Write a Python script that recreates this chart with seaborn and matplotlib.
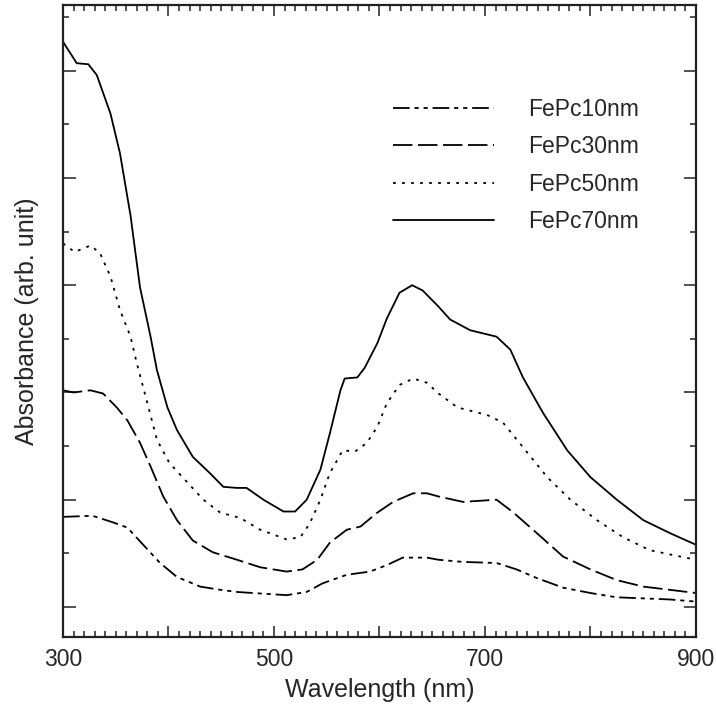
import matplotlib
matplotlib.use("Agg")
import matplotlib.pyplot as plt
import pandas as pd
import seaborn as sns
from matplotlib.ticker import FixedLocator

# FePc 10 nm (dash-dot-dot)
wl_10 = [300, 328, 347, 361, 376, 392, 408, 430, 449, 465, 480, 512, 531, 546, 569,
         591, 607, 622, 645, 656, 679, 711, 730, 749, 774, 800, 825, 850, 875, 900]
ab_10 = [0.84, 0.85, 0.79, 0.74, 0.58, 0.41, 0.28, 0.19, 0.16, 0.14, 0.13, 0.11, 0.14, 0.22, 0.30,
         0.33, 0.39, 0.46, 0.46, 0.44, 0.42, 0.41, 0.35, 0.27, 0.18, 0.13, 0.09, 0.08, 0.07, 0.05]

# FePc 30 nm (dashed)
wl_30 = [300, 310, 326, 338, 351, 361, 373, 383, 395, 408, 423, 442, 465, 487, 512, 527,
         541, 553, 569, 582, 598, 613, 632, 645, 656, 679, 711, 727, 749, 774, 800, 825,
         850, 875, 900]
ab_30 = [2.02, 2.00, 2.02, 1.99, 1.86, 1.74, 1.53, 1.31, 1.03, 0.81, 0.62, 0.51, 0.44, 0.37,
         0.33, 0.35, 0.44, 0.60, 0.72, 0.75, 0.88, 0.98, 1.06, 1.06, 1.03, 0.98, 1.00, 0.88,
         0.69, 0.47, 0.35, 0.25, 0.19, 0.16, 0.13]

# FePc 50 nm (dotted)
wl_50 = [300, 311, 326, 335, 345, 354, 364, 370, 380, 389, 401, 418, 433, 449, 468, 487,
         512, 525, 534, 544, 553, 560, 565, 577, 588, 598, 607, 619, 632, 645, 656, 674,
         702, 717, 736, 759, 781, 806, 831, 856, 885, 900]
ab_50 = [3.39, 3.31, 3.37, 3.30, 3.08, 2.77, 2.52, 2.27, 1.90, 1.56, 1.34, 1.16, 1.00, 0.88,
         0.83, 0.72, 0.63, 0.65, 0.78, 1.00, 1.25, 1.37, 1.46, 1.45, 1.53, 1.68, 1.90, 2.07,
         2.13, 2.09, 1.99, 1.86, 1.79, 1.72, 1.49, 1.21, 1.00, 0.81, 0.65, 0.53, 0.47, 0.44]

# FePc 70 nm (solid)
wl_70 = [300, 313, 324, 332, 345, 354, 364, 373, 383, 389, 399, 408, 423, 439, 452, 465,
         474, 490, 509, 520, 531, 544, 553, 563, 567, 579, 586, 598, 607, 619, 631, 641,
         656, 667, 686, 711, 724, 736, 755, 778, 800, 825, 850, 875, 900]
ab_70 = [5.27, 5.07, 5.06, 4.96, 4.60, 4.23, 3.65, 2.98, 2.52, 2.21, 1.86, 1.65, 1.40, 1.25,
         1.12, 1.11, 1.11, 1.00, 0.89, 0.89, 1.00, 1.28, 1.62, 2.02, 2.13, 2.14, 2.23, 2.46,
         2.69, 2.93, 3.00, 2.95, 2.80, 2.68, 2.58, 2.52, 2.40, 2.14, 1.81, 1.46, 1.21, 1.00,
         0.81, 0.69, 0.58]

labels = ["FePc10nm", "FePc30nm", "FePc50nm", "FePc70nm"]
series = [(wl_10, ab_10), (wl_30, ab_30), (wl_50, ab_50), (wl_70, ab_70)]
dash_styles = [(0, (12, 3.5, 3, 3.5, 3, 3.5)), (0, (14, 4)), (0, (2, 4.5)), "-"]

x_major = [300, 400, 500, 600, 700, 800, 900]
x_labels = ["300", "", "500", "", "700", "", "900"]
x_minor = [x for x in range(310, 900, 10) if x % 100 != 0]
y_major = [0, 1, 2, 3, 4, 5]
y_minor = [0.5, 1.5, 2.5, 3.5, 4.5, 5.5]

rows = []
for lab, (wl, ab) in zip(labels, series):
    for w, a in zip(wl, ab):
        rows.append({"sample": lab, "wavelength": w, "absorbance": a})
df = pd.DataFrame(rows)

sns.set_theme(style="ticks")
plt.rcParams["font.family"] = ["Liberation Sans", "DejaVu Sans"]
plt.rcParams["lines.scale_dashes"] = False
plt.rcParams["xtick.minor.visible"] = True
plt.rcParams["ytick.minor.visible"] = True

fig = plt.figure(figsize=(7.16, 7.13), dpi=100)
ax = fig.add_axes([0.088, 0.1066, 0.884, 0.886])

for lab, ls in zip(labels, dash_styles):
    sns.lineplot(data=df[df["sample"] == lab], x="wavelength", y="absorbance",
                 color="black", linewidth=1.3, linestyle=ls, label=lab,
                 estimator=None, ax=ax)

ax.set_xlim(300, 900)
ax.set_ylim(-0.28, 5.61)
ax.set_xticks(x_major)
ax.set_xticklabels(x_labels)
ax.xaxis.set_minor_locator(FixedLocator(x_minor))
ax.set_yticks(y_major)
ax.set_yticklabels([])
ax.yaxis.set_minor_locator(FixedLocator(y_minor))

ax.tick_params(which="both", direction="in", top=True, right=True, color="#222222")
ax.tick_params(axis="x", which="major", length=8, width=1.1, labelsize=16.5, pad=8)
ax.tick_params(axis="x", which="minor", length=4.3, width=1.1, bottom=True, top=True)
ax.tick_params(axis="y", which="major", length=9, width=1.1)
ax.tick_params(axis="y", which="minor", length=4.3, width=1.1)
for sp in ax.spines.values():
    sp.set_linewidth(1.6)
    sp.set_color("#222222")

ax.set_xlabel("Wavelength (nm)", fontsize=18, labelpad=5)
ax.set_ylabel("Absorbance (arb. unit)", fontsize=18, labelpad=14)

ax.legend(loc="upper left", bbox_to_anchor=(0.521, 0.853), frameon=False,
          fontsize=16.5, handlelength=4.4, handletextpad=1.5, labelspacing=0.62,
          borderpad=0, borderaxespad=0)

fig.savefig("out.png", dpi=100)
